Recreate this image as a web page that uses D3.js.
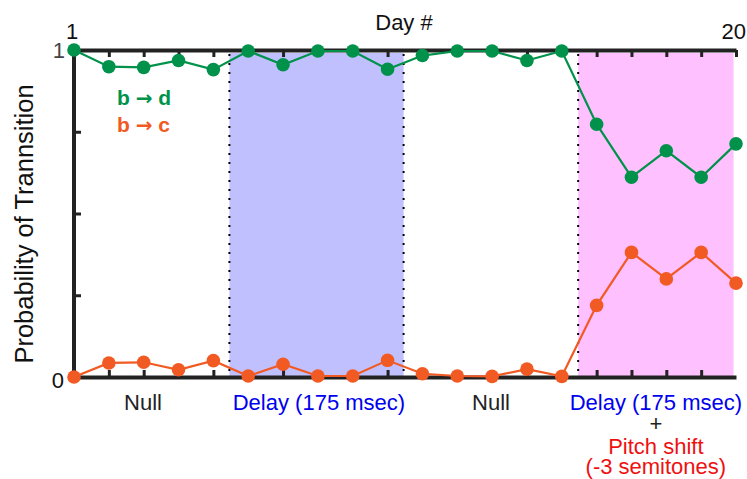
<!DOCTYPE html>
<html>
<head>
<meta charset="utf-8">
<script src="https://cdn.jsdelivr.net/npm/d3@7.9.0/dist/d3.min.js"></script>
<style>
  body { margin: 0; background: #fff; }
  text { font-family: "Liberation Sans", Arial, sans-serif; }
</style>
</head>
<body>
<svg id="chart" width="747" height="479"></svg>
<script>
const days = [1, 2, 3, 4, 5, 6, 7, 8, 9, 10, 11, 12, 13, 14, 15, 16, 17, 18, 19, 20];
const bToD = [1.0, 0.949, 0.947, 0.968, 0.94, 0.997, 0.955, 0.997, 0.997, 0.941, 0.983, 0.997, 0.997, 0.968, 0.997, 0.773, 0.611, 0.692, 0.611, 0.713];
const bToC = [0.0, 0.043, 0.045, 0.022, 0.05, 0.003, 0.039, 0.003, 0.003, 0.051, 0.01, 0.003, 0.002, 0.024, 0.002, 0.219, 0.381, 0.3, 0.381, 0.287];
const yTicks = [0, 0.25, 0.5, 0.75, 1];
const regions = [
  { start: 5.46, end: 10.46, fill: '#c0c0ff', leftDots: true, rightDots: true },
  { start: 15.47, end: 19.93, fill: '#ffc0ff', leftDots: true, rightDots: false },
];
const phaseLabels = [
  { day: 2.98, lines: [['Null', '#222']] },
  { day: 8.03, lines: [['Delay (175 msec)', '#0000ee']] },
  { day: 12.97, lines: [['Null', '#222']] },
  { day: 17.7, lines: [['Delay (175 msec)', '#0000ee'], ['+', '#222'], ['Pitch shift', '#ee1111'], ['(-3 semitones)', '#ee1111']] },
];
const lineOffsets = [0, 21, 44, 64];

const green = '#00924a';
const orange = '#f25a24';

const svg = d3.select('#chart');
const x = d3.scaleLinear().domain([1, 20]).range([74, 736]);
const y = d3.scaleLinear().domain([0, 1]).range([377, 50]);

// shaded phases
regions.forEach((r) => {
  svg.append('rect')
    .attr('x', x(r.start))
    .attr('y', y(1) + 3)
    .attr('width', x(r.end) - x(r.start))
    .attr('height', y(0) - y(1) - 3)
    .attr('fill', r.fill);
  const edges = [];
  if (r.leftDots) edges.push(r.start);
  if (r.rightDots) edges.push(r.end);
  edges.forEach((d) => {
    svg.append('line')
      .attr('x1', x(d)).attr('x2', x(d))
      .attr('y1', y(1) + 4).attr('y2', y(0))
      .attr('stroke', '#000')
      .attr('stroke-width', 2)
      .attr('stroke-dasharray', '2,7');
  });
});

// axes
const axisColor = '#222';
const topAxis = svg.append('g').attr('transform', `translate(0,${y(1)})`)
  .call(d3.axisBottom(x).tickValues(days).tickSize(7).tickSizeOuter(0).tickFormat(''));
const bottomAxis = svg.append('g').attr('transform', `translate(0,${y(0)})`)
  .call(d3.axisTop(x).tickValues(days.slice(1, -1)).tickSize(7).tickSizeOuter(0).tickFormat(''));
const leftAxis = svg.append('g').attr('transform', `translate(${x(1)},0)`)
  .call(d3.axisRight(y).tickValues(yTicks.slice(1, -1)).tickSize(7).tickSizeOuter(0).tickFormat(''));
[topAxis, bottomAxis, leftAxis].forEach((g) => {
  g.select('.domain').attr('stroke', axisColor).attr('stroke-width', 4);
  g.selectAll('.tick line').attr('stroke', axisColor).attr('stroke-width', 3);
});
leftAxis.select('.domain').attr('d', `M0,${y(1) - 2}V${y(0) + 2}`);

// series
const line = d3.line().x((d, i) => x(days[i])).y((d) => y(d));
[[bToD, green], [bToC, orange]].forEach(([vals, col]) => {
  svg.append('path').datum(vals)
    .attr('d', line)
    .attr('fill', 'none')
    .attr('stroke', col)
    .attr('stroke-width', 2.2);
  svg.append('g').selectAll('circle').data(vals).join('circle')
    .attr('cx', (d, i) => x(days[i]))
    .attr('cy', (d) => y(d))
    .attr('r', 6.8)
    .attr('fill', col);
});

// tick texts
svg.append('text').attr('x', x(1) - 9).attr('y', 58).attr('text-anchor', 'end')
  .attr('font-size', 22).attr('fill', '#444').text(yTicks[4]);
svg.append('text').attr('x', x(1) - 10).attr('y', 388).attr('text-anchor', 'end')
  .attr('font-size', 22).attr('fill', '#111').text(yTicks[0]);
svg.append('text').attr('x', x(1) - 2).attr('y', 39).attr('text-anchor', 'middle')
  .attr('font-size', 22).attr('fill', '#111').text(days[0]);
svg.append('text').attr('x', 746).attr('y', 39).attr('text-anchor', 'end')
  .attr('font-size', 22).attr('fill', '#111').text(days[19]);
svg.append('text').attr('x', 404).attr('y', 30).attr('text-anchor', 'middle')
  .attr('font-size', 22).attr('fill', '#111').text('Day #');

// y label
svg.append('text')
  .attr('transform', 'translate(33,224) rotate(-90)')
  .attr('text-anchor', 'middle')
  .attr('font-size', 25.5).attr('fill', '#111')
  .text('Probability of Trannsition');

// legend
function legendItem(yPos, col, target) {
  const t = svg.append('text').attr('x', 117).attr('y', yPos)
    .attr('font-size', 21).attr('font-weight', 'bold').attr('fill', col);
  t.append('tspan').text('b ');
  t.append('tspan').attr('font-family', 'DejaVu Sans').attr('font-size', 20).text('→');
  t.append('tspan').text(' ' + target);
}
legendItem(105, green, 'd');
legendItem(132, orange, 'c');

// phase labels
phaseLabels.forEach((p) => {
  p.lines.forEach(([t, col], i) => {
    svg.append('text')
      .attr('x', x(p.day))
      .attr('y', 410 + lineOffsets[i])
      .attr('text-anchor', 'middle')
      .attr('font-size', 22)
      .attr('fill', col)
      .text(t);
  });
});
</script>
</body>
</html>
